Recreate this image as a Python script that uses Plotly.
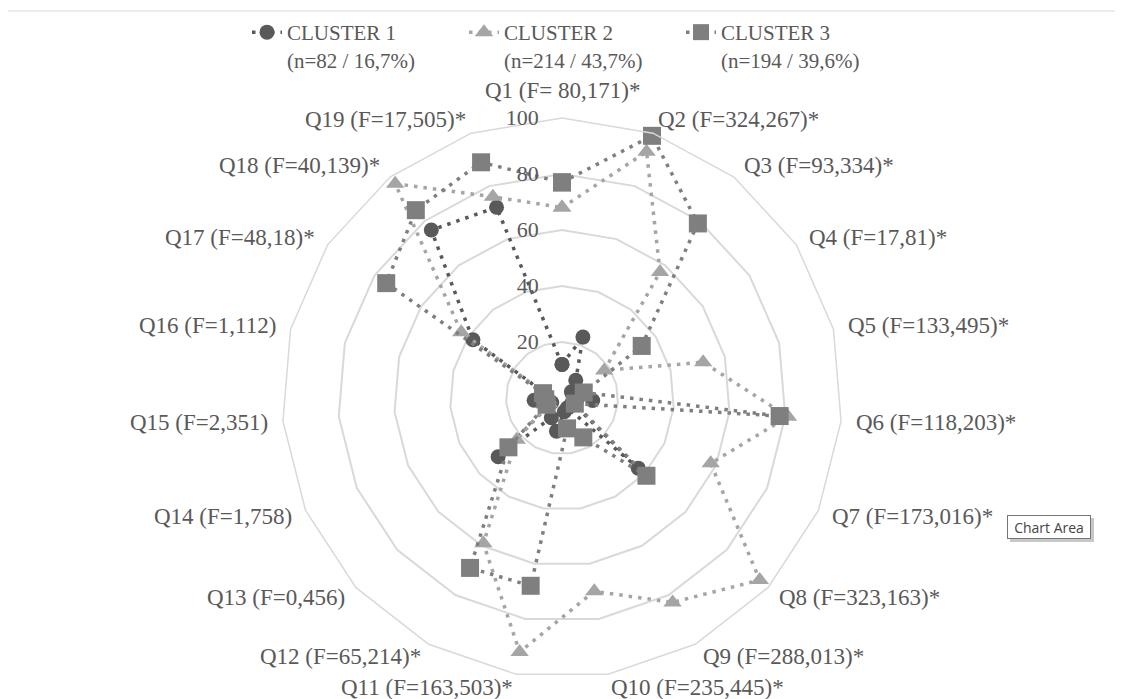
import math
import plotly.graph_objects as go

categories = [
    "Q1 (F= 80,171)*", "Q2 (F=324,267)*", "Q3 (F=93,334)*", "Q4 (F=17,81)*",
    "Q5 (F=133,495)*", "Q6 (F=118,203)*", "Q7 (F=173,016)*", "Q8 (F=323,163)*",
    "Q9 (F=288,013)*", "Q10 (F=235,445)*", "Q11 (F=163,503)*", "Q12 (F=65,214)*",
    "Q13 (F=0,456)", "Q14 (F=1,758)", "Q15 (F=2,351)", "Q16 (F=1,112)",
    "Q17 (F=48,18)*", "Q18 (F=40,139)*", "Q19 (F=17,505)*",
]
cluster1 = [12, 23, 8, 4, 4, 11, 4, 37, 4, 5, 12, 8, 31, 4, 10, 6, 38, 76, 72]
cluster2 = [68, 93, 57, 18, 52, 81, 58, 96, 83, 70, 92, 59, 22, 5, 5, 6, 43, 97, 76]
cluster3 = [77, 99, 79, 34, 8, 78, 5, 41, 16, 11, 68, 69, 26, 6, 6, 7, 75, 85, 89]
series_names = [
    "CLUSTER 1<br>(n=82 / 16,7%)",
    "CLUSTER 2<br>(n=214 / 43,7%)",
    "CLUSTER 3<br>(n=194 / 39,6%)",
]
radial_ticks = [20, 40, 60, 80, 100]

W, H = 1123, 699
OFF = 8  # page body margin
TXT = "#595959"
FONT = "Liberation Serif"


def px(x):
    return (x - OFF) / W


def py(y):
    return 1 - (y - OFF) / H


styles = [
    dict(color="#595959", symbol="circle", size=15),
    dict(color="#a5a5a5", symbol="triangle-up", size=16),
    dict(color="#7f7f7f", symbol="square", size=18),
]

fig = go.Figure()
for name, vals, st in zip(series_names, [cluster1, cluster2, cluster3], styles):
    fig.add_trace(go.Scatterpolar(
        r=vals + vals[:1],
        theta=categories + categories[:1],
        name=name,
        mode="lines+markers",
        line=dict(color=st["color"], width=3.5, dash="3.5px,6px"),
        marker=dict(color=st["color"], symbol=st["symbol"], size=st["size"],
                    line=dict(width=0)),
    ))

cx, cy, R = 562, 398, 280

# category labels placed just outside the polygon, Excel-style
label_annots = []
n = len(categories)
dist = R + 14
for k, cat in enumerate(categories):
    th = 2 * math.pi * k / n
    s, c = math.sin(th), math.cos(th)
    lx, ly = cx + dist * s, cy - dist * c
    if abs(s) < 0.1:
        xa, ya = "center", "bottom"
    else:
        xa, ya = ("left" if s > 0 else "right"), "middle"
    label_annots.append(dict(
        text=cat, xref="paper", yref="paper", x=px(lx), y=py(ly),
        xanchor=xa, yanchor=ya, showarrow=False,
        font=dict(family=FONT, size=23, color=TXT), borderpad=0,
    ))

fig.update_layout(
    width=W, height=H,
    margin=dict(l=0, r=0, t=0, b=0),
    paper_bgcolor="white",
    plot_bgcolor="white",
    font=dict(family=FONT, size=21, color=TXT),
    polar=dict(
        domain=dict(x=[px(cx - R), px(cx + R)], y=[py(cy + R), py(cy - R)]),
        bgcolor="white",
        gridshape="linear",
        angularaxis=dict(
            rotation=90, direction="clockwise",
            showgrid=False, showline=True, linecolor="#d9d9d9", linewidth=1.5,
            ticks="", showticklabels=False,
        ),
        radialaxis=dict(
            range=[0, 100], angle=90, side="counterclockwise",
            tickvals=radial_ticks, ticktext=[str(v) for v in radial_ticks],
            showgrid=True, gridcolor="#d9d9d9", gridwidth=1.5,
            showline=False, ticks="outside", ticklen=15, tickcolor="rgba(0,0,0,0)",
            tickangle=90,
            tickfont=dict(family=FONT, size=22, color=TXT),
        ),
    ),
    legend=dict(
        orientation="h",
        x=px(247), xanchor="left",
        y=py(12), yanchor="top",
        valign="top",
        entrywidth=172, entrywidthmode="pixels",
        font=dict(family=FONT, size=21, color=TXT),
        bgcolor="rgba(0,0,0,0)",
    ),
    shapes=[
        dict(type="rect", xref="paper", yref="paper",
             x0=px(7), x1=px(1117), y0=-0.05, y1=py(11),
             line=dict(color="#d9d9d9", width=1), fillcolor="rgba(0,0,0,0)", layer="below"),
        dict(type="rect", xref="paper", yref="paper",
             x0=px(1010), x1=px(1094), y0=py(542), y1=py(518),
             line=dict(width=0), fillcolor="#c8c8c8", layer="above"),
    ],
    annotations=label_annots + [
        dict(text="Chart Area", xref="paper", yref="paper",
             x=px(1007), y=py(515), xanchor="left", yanchor="top",
             width=78, height=18,
             showarrow=False, font=dict(family="Open Sans", size=14, color="#444444"),
             bgcolor="white", bordercolor="#767676", borderwidth=1, borderpad=2),
    ],
)

fig.write_html("out.html")
